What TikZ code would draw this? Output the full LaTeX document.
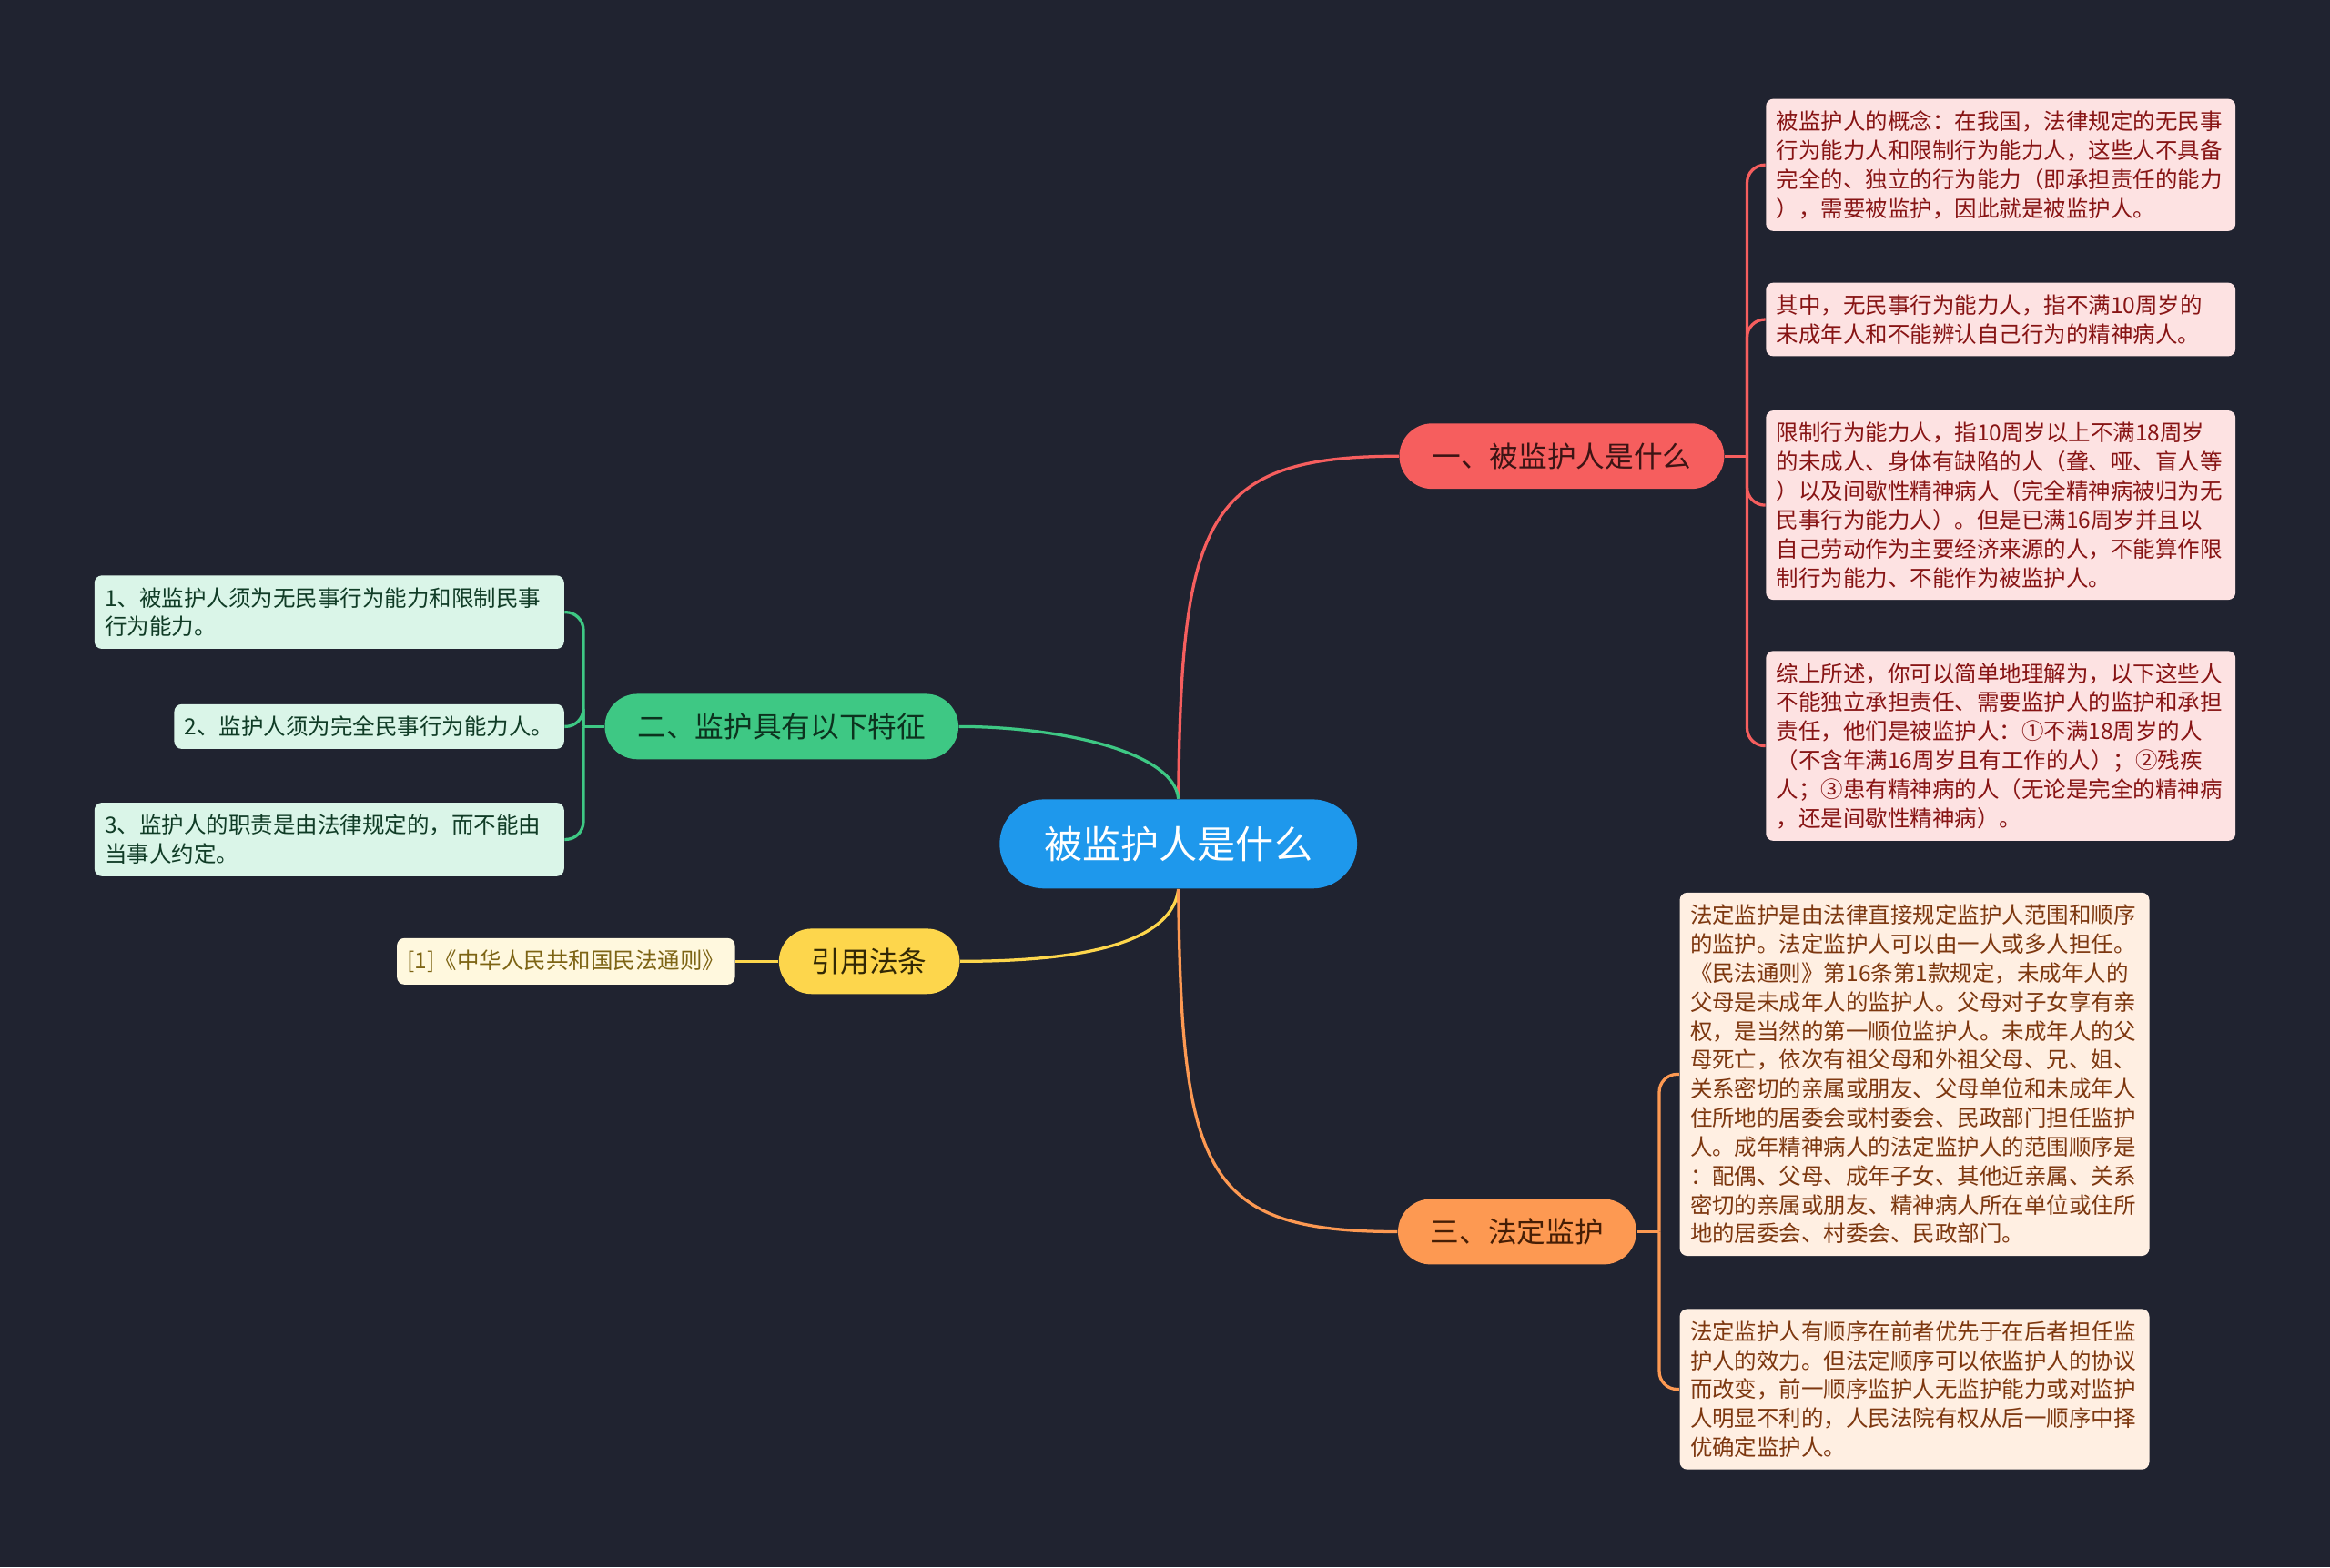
\documentclass[tikz,border=0pt]{standalone}
\usepackage{fontspec}
\setmainfont{Noto Sans CJK SC}
\usepackage{xcolor}
\definecolor{bgdark}{RGB}{32, 35, 48}
\definecolor{rootblue}{RGB}{30, 152, 236}
\definecolor{redtopic}{RGB}{246, 94, 94}
\definecolor{redfg}{RGB}{60, 20, 20}
\definecolor{redleaf}{RGB}{253, 226, 226}
\definecolor{redtext}{RGB}{135, 20, 20}
\definecolor{greentopic}{RGB}{62, 200, 132}
\definecolor{greenfg}{RGB}{12, 50, 30}
\definecolor{greenleaf}{RGB}{218, 245, 232}
\definecolor{greentext}{RGB}{16, 60, 38}
\definecolor{yellowtopic}{RGB}{253, 214, 76}
\definecolor{yellowfg}{RGB}{50, 40, 5}
\definecolor{yellowleaf}{RGB}{255, 248, 222}
\definecolor{yellowtext}{RGB}{125, 100, 20}
\definecolor{orangetopic}{RGB}{253, 153, 82}
\definecolor{orangefg}{RGB}{70, 30, 5}
\definecolor{orangeleaf}{RGB}{255, 239, 226}
\definecolor{orangetext}{RGB}{125, 55, 15}

\begin{document}
\begin{tikzpicture}[x=0.5pt, y=-0.5pt,
  root/.style={rounded corners=15pt, fill=rootblue, text=white, minimum height=30pt,
               inner xsep=15pt, font=\fontsize{12.9}{15}\selectfont},
  topic/.style={rounded corners=11pt, minimum height=22pt, inner xsep=11pt,
                font=\fontsize{9.7}{12}\selectfont},
  leaf/.style={rounded corners=2.5pt, inner xsep=3.5pt, inner ysep=4pt, align=left,
               font=\fontsize{7.5}{9.75}\selectfont},
  note/.style={leaf, text width=151pt},
  link/.style={line width=1pt},
  spine/.style={link, rounded corners=6pt}
]
  \fill[bgdark] (0,0) rectangle (1568,1055);

  \node[root] (root) at (793,568) {被监护人是什么};

  \node[topic, fill=redtopic, text=redfg] (t1) at (1051,307) {一、被监护人是什么};
  \node[topic, fill=greentopic, text=greenfg] (t2) at (526,489) {二、监护具有以下特征};
  \node[topic, fill=yellowtopic, text=yellowfg] (t4) at (585,647) {引用法条};
  \node[topic, fill=orangetopic, text=orangefg] (t3) at (1021,829) {三、法定监护};

  % topic 1
  \node[note, fill=redleaf, text=redtext, anchor=west] (ra) at (1188,111)
    {被监护人的概念：在我国，法律规定的无民事\\行为能力人和限制行为能力人，这些人不具备\\完全的、独立的行为能力（即承担责任的能力\\），需要被监护，因此就是被监护人。};
  \node[note, fill=redleaf, text=redtext, anchor=west] (rb) at (1188,215)
    {其中，无民事行为能力人，指不满10周岁的\\未成年人和不能辨认自己行为的精神病人。};
  \node[note, fill=redleaf, text=redtext, anchor=west] (rc) at (1188,340)
    {限制行为能力人，指10周岁以上不满18周岁\\的未成人、身体有缺陷的人（聋、哑、盲人等\\）以及间歇性精神病人（完全精神病被归为无\\民事行为能力人）。但是已满16周岁并且以\\自己劳动作为主要经济来源的人，不能算作限\\制行为能力、不能作为被监护人。};
  \node[note, fill=redleaf, text=redtext, anchor=west] (rd) at (1188,502)
    {综上所述，你可以简单地理解为，以下这些人\\不能独立承担责任、需要监护人的监护和承担\\责任，他们是被监护人：①不满18周岁的人\\（不含年满16周岁且有工作的人）；②残疾\\人；③患有精神病的人（无论是完全的精神病\\，还是间歇性精神病）。};

  % topic 2
  \node[note, fill=greenleaf, text=greentext, anchor=east] (ga) at (380,412)
    {1、被监护人须为无民事行为能力和限制民事\\行为能力。};
  \node[leaf, fill=greenleaf, text=greentext, anchor=east] (gb) at (380,489)
    {2、监护人须为完全民事行为能力人。};
  \node[note, fill=greenleaf, text=greentext, anchor=east] (gc) at (380,565)
    {3、监护人的职责是由法律规定的，而不能由\\当事人约定。};

  % citation
  \node[leaf, fill=yellowleaf, text=yellowtext, anchor=east] (ya) at (495,647)
    {[1]《中华人民共和国民法通则》};

  % topic 3
  \node[note, fill=orangeleaf, text=orangetext, anchor=west] (oa) at (1130,723)
    {法定监护是由法律直接规定监护人范围和顺序\\的监护。法定监护人可以由一人或多人担任。\\《民法通则》第16条第1款规定，未成年人的\\父母是未成年人的监护人。父母对子女享有亲\\权，是当然的第一顺位监护人。未成年人的父\\母死亡，依次有祖父母和外祖父母、兄、姐、\\关系密切的亲属或朋友、父母单位和未成年人\\住所地的居委会或村委会、民政部门担任监护\\人。成年精神病人的法定监护人的范围顺序是\\：配偶、父母、成年子女、其他近亲属、关系\\密切的亲属或朋友、精神病人所在单位或住所\\地的居委会、村委会、民政部门。};
  \node[note, fill=orangeleaf, text=orangetext, anchor=west] (ob) at (1130,935)
    {法定监护人有顺序在前者优先于在后者担任监\\护人的效力。但法定顺序可以依监护人的协议\\而改变，前一顺序监护人无监护能力或对监护\\人明显不利的，人民法院有权从后一顺序中择\\优确定监护人。};

  % root to topics
  \draw[link, redtopic] (root.north) .. controls (795,350) and (810,307) .. (t1.west);
  \draw[link, greentopic] (root.north) .. controls (790,505) and (710,489) .. (t2.east);
  \draw[link, yellowtopic] (root.south) .. controls (788,640) and (710,647) .. (t4.east);
  \draw[link, orangetopic] (root.south) .. controls (795,790) and (810,829) .. (t3.west);

  % topics to leaves
  \coordinate (s1) at ([xshift=7.5pt]t1.east);
  \coordinate (s2) at ([xshift=-7pt]t2.west);
  \coordinate (s3) at ([xshift=7.5pt]t3.east);
  \draw[link, redtopic] (t1.east) -- (s1);
  \foreach \n in {ra,rb,rc,rd}
    \draw[spine, redtopic] (s1) |- (\n.west);
  \draw[link, greentopic] (t2.west) -- (s2);
  \foreach \n in {ga,gb,gc}
    \draw[spine, greentopic] (s2) |- (\n.east);
  \draw[link, orangetopic] (t3.east) -- (s3);
  \foreach \n in {oa,ob}
    \draw[spine, orangetopic] (s3) |- (\n.west);
  \draw[link, yellowtopic] (t4.west) -- (ya.east);
\end{tikzpicture}
\end{document}
